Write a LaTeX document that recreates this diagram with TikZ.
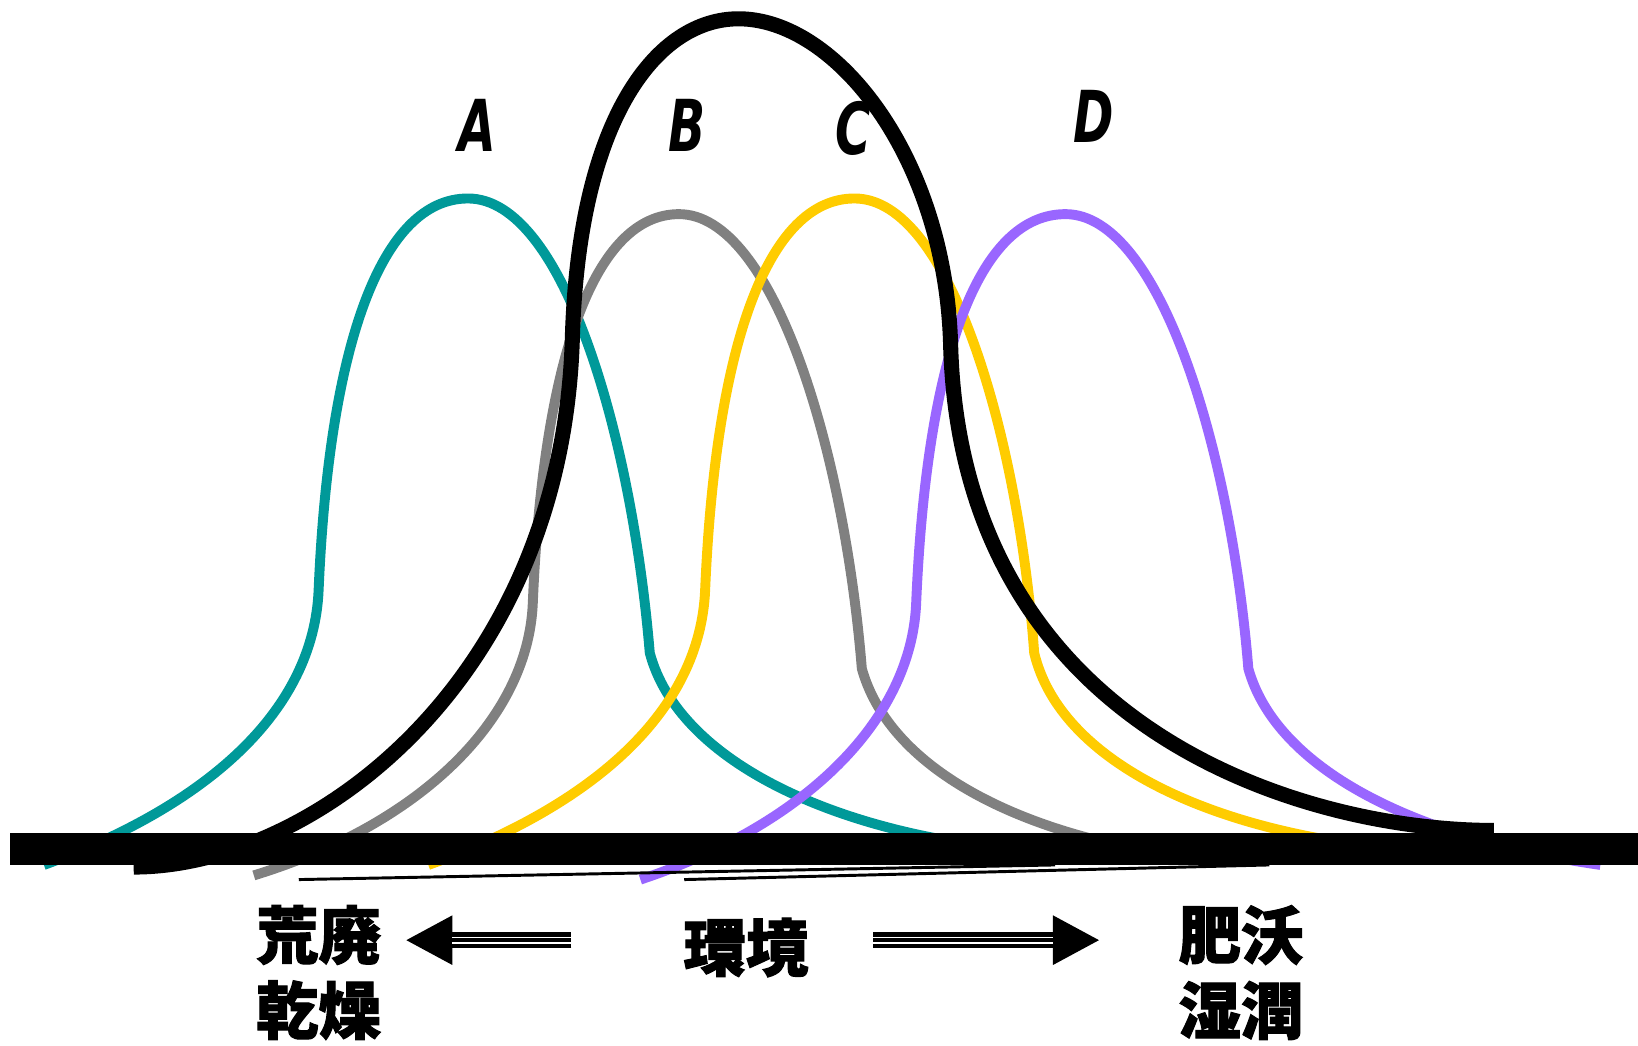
\documentclass[tikz,border=0pt]{standalone}
\usepackage{fontspec}
\newfontfamily\cjk{Noto Sans CJK JP}[BoldFeatures={FakeBold=1.6}]
\newfontfamily\latn{DejaVu Sans}
\usetikzlibrary{arrows.meta}

\definecolor{tealA}{RGB}{0,153,153}
\definecolor{grayB}{RGB}{128,128,128}
\definecolor{yellowC}{RGB}{255,204,0}
\definecolor{purpleD}{RGB}{153,102,255}

\begin{document}
\begin{tikzpicture}[
    x=0.01cm, y=-0.01cm,
    bell/.style={line width=2.7pt},
    big/.style={line width=4.1pt, black},
    letter/.style={inner sep=0pt, font=\latn\bfseries\itshape\fontsize{19.5}{20}\selectfont},
    word/.style={inner sep=0pt, align=center, font=\cjk\bfseries\fontsize{17}{20.5}\selectfont},
    shaft/.style={line width=4.3pt, -{Triangle[length=12.8pt, width=12.5pt]}},
    gap/.style={white, line width=0.43pt},
  ]
  \useasboundingbox (0,0) rectangle (1568,1001);

  % the four bells
  \draw[bell, tealA] (42,828) .. controls (200,770) and (300,680) .. (305,565)
    .. controls (315,330) and (365,190) .. (448,190)
    .. controls (540,190) and (605,420) .. (622,625)
    .. controls (650,730) and (800,795) .. (960,812);
  \draw[bell, grayB] (243,838) .. controls (400,790) and (505,690) .. (510,578)
    .. controls (520,340) and (570,205) .. (650,205)
    .. controls (740,205) and (808,430) .. (825,640)
    .. controls (850,730) and (960,790) .. (1100,815);
  \draw[bell, yellowC] (410,828) .. controls (570,770) and (670,680) .. (675,565)
    .. controls (685,330) and (735,190) .. (818,190)
    .. controls (910,190) and (975,420) .. (990,625)
    .. controls (1015,730) and (1160,795) .. (1330,812);
  \draw[bell, purpleD] (613,842) .. controls (770,790) and (872,690) .. (877,578)
    .. controls (887,340) and (937,205) .. (1020,205)
    .. controls (1110,205) and (1178,430) .. (1195,640)
    .. controls (1220,730) and (1340,800) .. (1532,828);

  % the wide one
  \draw[big] (128,830) .. controls (300,830) and (540,650) .. (548,320)
    .. controls (555,110) and (630,18) .. (707,18)
    .. controls (800,18) and (905,150) .. (910,330)
    .. controls (920,700) and (1250,795) .. (1430,795);

  % axis
  \fill (10,797) rectangle (1568,828);
  \draw[line width=0.8pt] (286,842) -- (1010,828);
  \draw[line width=0.8pt] (655,842) -- (1215,828);

  \node[letter] (lblA) at (457,120) {\scalebox{0.68}[1]{A}};
  \node[letter] (lblB) at (658,120) {\scalebox{0.68}[1]{B}};
  \node[letter] (lblC) at (817,123) {\scalebox{0.68}[1]{C}};
  \node[letter] (lblD) at (1047,111) {\scalebox{0.68}[1]{D}};

  \node[word] (arid) at (305,931) {荒廃\\乾燥};
  \node[word] (env) at (714,907) {環境};
  \node[word] (moist) at (1188,931) {肥沃\\湿潤};

  \coordinate (lft0) at (547,900);
  \coordinate (lft1) at (433,900);
  \coordinate (lftTip) at (388,900);
  \coordinate (rgt0) at (836,900);
  \coordinate (rgt1) at (1008,900);
  \coordinate (rgtTip) at (1053,900);
  \draw[shaft] (lft0) -- (lftTip);
  \draw[shaft] (rgt0) -- (rgtTip);
  \foreach \s in {-0.78,0.78}{
    \draw[gap, transform canvas={yshift=\s pt}] (lft0) -- (lft1);
    \draw[gap, transform canvas={yshift=\s pt}] (rgt0) -- (rgt1);
  }
\end{tikzpicture}
\end{document}
